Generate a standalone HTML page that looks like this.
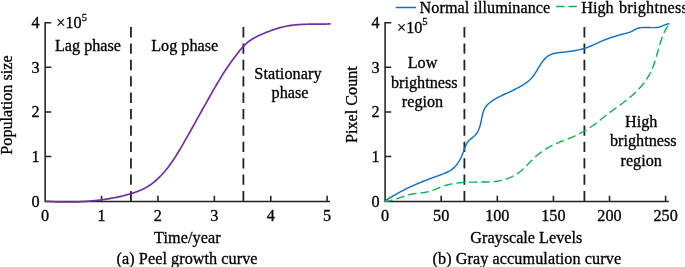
<!DOCTYPE html><html><head><meta charset="utf-8"><title>Figure</title><style>html,body{margin:0;padding:0;background:#fff}svg{display:block}</style></head><body><svg width="685" height="267" viewBox="0 0 685 267">
<rect width="100%" height="100%" fill="#fff"/>
<g font-family="'Liberation Serif', serif" font-size="16.2" fill="#000" stroke="#000" stroke-width="0.3">
<g fill="none" stroke="#222" stroke-width="1.55">
<path d="M45.15,21.95 V201.45 H330.0"/>
<path d="M101.55,201.45 v-5.7 M157.95,201.45 v-5.7 M214.35,201.45 v-5.7 M270.75,201.45 v-5.7 M327.15,201.45 v-5.7 M45.15,156.50 h6.2 M45.15,111.90 h6.2 M45.15,67.30 h6.2 M45.15,22.70 h6.2 "/>
<path d="M385.1,21.95 V201.45 H668.8"/>
<path d="M441.20,201.45 v-5.7 M497.30,201.45 v-5.7 M553.40,201.45 v-5.7 M609.50,201.45 v-5.7 M665.60,201.45 v-5.7 M385.1,156.50 h6.2 M385.1,111.90 h6.2 M385.1,67.30 h6.2 M385.1,22.70 h6.2 "/>
</g>
<g fill="none" stroke="#222" stroke-width="1.8" stroke-dasharray="10.3,6.08">
<path d="M130.95,27.1 V201.1"/>
<path d="M243.4,27.1 V201.1"/>
<path d="M464.4,27.1 V201.1"/>
<path d="M584.4,27.1 V201.1"/>
</g>
<path d="M45.30,201.23 L46.45,201.31 L47.59,201.38 L48.74,201.45 L49.88,201.51 L51.03,201.58 L52.18,201.63 L53.32,201.69 L54.47,201.74 L55.62,201.78 L56.76,201.82 L57.91,201.86 L59.05,201.89 L60.20,201.92 L61.35,201.95 L62.49,201.97 L63.64,201.98 L64.79,202.00 L65.93,202.00 L67.08,202.01 L68.22,202.00 L69.37,202.00 L70.52,201.99 L71.66,201.97 L72.81,201.95 L73.95,201.93 L75.10,201.90 L76.25,201.86 L77.39,201.82 L78.54,201.78 L79.69,201.73 L80.83,201.68 L81.98,201.62 L83.12,201.55 L84.27,201.48 L85.42,201.41 L86.56,201.33 L87.71,201.25 L88.86,201.16 L90.00,201.06 L91.15,200.96 L92.29,200.86 L93.44,200.75 L94.59,200.63 L95.73,200.51 L96.88,200.38 L98.02,200.25 L99.17,200.11 L100.32,199.97 L101.46,199.82 L102.61,199.66 L103.76,199.50 L104.90,199.34 L106.05,199.17 L107.19,198.99 L108.34,198.80 L109.49,198.61 L110.63,198.41 L111.78,198.21 L112.92,198.00 L114.07,197.78 L115.22,197.55 L116.36,197.32 L117.51,197.08 L118.66,196.83 L119.80,196.57 L120.95,196.31 L122.09,196.04 L123.24,195.75 L124.39,195.46 L125.53,195.17 L126.68,194.86 L127.83,194.54 L128.97,194.22 L130.12,193.88 L131.26,193.54 L132.41,193.19 L133.56,192.82 L134.70,192.44 L135.85,192.04 L136.99,191.63 L138.14,191.20 L139.29,190.74 L140.43,190.26 L141.58,189.75 L142.73,189.22 L143.87,188.66 L145.02,188.06 L146.16,187.43 L147.31,186.77 L148.46,186.07 L149.60,185.33 L150.75,184.54 L151.90,183.72 L153.04,182.85 L154.19,181.94 L155.33,180.98 L156.48,179.98 L157.63,178.94 L158.77,177.85 L159.92,176.71 L161.06,175.53 L162.21,174.29 L163.36,173.02 L164.50,171.69 L165.65,170.32 L166.80,168.91 L167.94,167.44 L169.09,165.93 L170.23,164.37 L171.38,162.76 L172.53,161.11 L173.67,159.41 L174.82,157.66 L175.97,155.87 L177.11,154.04 L178.26,152.18 L179.40,150.28 L180.55,148.35 L181.70,146.40 L182.84,144.43 L183.99,142.44 L185.13,140.43 L186.28,138.41 L187.43,136.38 L188.57,134.34 L189.72,132.30 L190.87,130.26 L192.01,128.22 L193.16,126.17 L194.30,124.12 L195.45,122.06 L196.60,120.01 L197.74,117.95 L198.89,115.90 L200.03,113.84 L201.18,111.79 L202.33,109.74 L203.47,107.69 L204.62,105.64 L205.77,103.60 L206.91,101.56 L208.06,99.52 L209.20,97.48 L210.35,95.45 L211.50,93.43 L212.64,91.42 L213.79,89.42 L214.94,87.43 L216.08,85.46 L217.23,83.51 L218.37,81.58 L219.52,79.66 L220.67,77.77 L221.81,75.91 L222.96,74.07 L224.10,72.26 L225.25,70.49 L226.40,68.78 L227.54,67.10 L228.69,65.44 L229.84,63.80 L230.98,62.19 L232.13,60.60 L233.27,59.03 L234.42,57.48 L235.57,55.94 L236.71,54.43 L237.86,52.93 L239.01,51.47 L240.15,50.04 L241.30,48.64 L242.44,47.31 L243.59,46.06 L244.74,44.89 L245.88,43.81 L247.03,42.81 L248.17,41.88 L249.32,41.02 L250.47,40.21 L251.61,39.47 L252.76,38.77 L253.91,38.11 L255.05,37.50 L256.20,36.91 L257.34,36.35 L258.49,35.81 L259.64,35.29 L260.78,34.78 L261.93,34.27 L263.08,33.77 L264.22,33.28 L265.37,32.80 L266.51,32.33 L267.66,31.87 L268.81,31.42 L269.95,30.98 L271.10,30.55 L272.24,30.13 L273.39,29.73 L274.54,29.34 L275.68,28.96 L276.83,28.60 L277.98,28.25 L279.12,27.91 L280.27,27.59 L281.41,27.29 L282.56,27.00 L283.71,26.72 L284.85,26.47 L286.00,26.23 L287.14,26.01 L288.29,25.81 L289.44,25.62 L290.58,25.45 L291.73,25.30 L292.88,25.15 L294.02,25.02 L295.17,24.91 L296.31,24.81 L297.46,24.71 L298.61,24.63 L299.75,24.56 L300.90,24.49 L302.05,24.43 L303.19,24.38 L304.34,24.33 L305.48,24.29 L306.63,24.26 L307.78,24.23 L308.92,24.21 L310.07,24.19 L311.21,24.18 L312.36,24.17 L313.51,24.16 L314.65,24.15 L315.80,24.15 L316.95,24.14 L318.09,24.14 L319.24,24.13 L320.38,24.12 L321.53,24.11 L322.68,24.09 L323.82,24.08 L324.97,24.05 L326.12,24.03 L327.26,23.99 L328.41,23.96 L329.55,23.91 L330.70,23.86" fill="none" stroke="#7030a2" stroke-width="1.7" stroke-linejoin="round"/>
<path d="M384.80,200.99 L385.79,200.36 L386.79,199.73 L387.80,199.11 L388.81,198.49 L389.82,197.87 L390.84,197.26 L391.87,196.65 L392.89,196.05 L393.93,195.45 L394.96,194.86 L396.00,194.27 L397.05,193.69 L398.10,193.11 L399.15,192.54 L400.20,191.97 L401.26,191.41 L402.32,190.85 L403.39,190.30 L404.46,189.75 L405.53,189.21 L406.60,188.68 L407.67,188.15 L408.75,187.63 L409.83,187.12 L410.91,186.61 L411.99,186.11 L413.08,185.62 L414.17,185.13 L415.25,184.65 L416.34,184.18 L417.43,183.71 L418.52,183.25 L419.61,182.80 L420.71,182.36 L421.80,181.91 L422.90,181.48 L424.00,181.05 L425.10,180.62 L426.20,180.19 L427.30,179.77 L428.41,179.35 L429.52,178.94 L430.63,178.52 L431.74,178.10 L432.86,177.69 L433.98,177.28 L435.10,176.86 L436.23,176.44 L437.35,176.03 L438.48,175.61 L439.62,175.18 L440.76,174.76 L441.90,174.33 L443.04,173.90 L444.18,173.45 L445.32,172.99 L446.44,172.51 L447.54,172.01 L448.61,171.47 L449.66,170.90 L450.67,170.28 L451.64,169.62 L452.57,168.91 L453.46,168.15 L454.31,167.35 L455.13,166.51 L455.91,165.64 L456.65,164.73 L457.36,163.79 L458.03,162.81 L458.68,161.82 L459.29,160.79 L459.88,159.75 L460.44,158.68 L460.98,157.60 L461.49,156.50 L461.98,155.39 L462.44,154.28 L462.89,153.15 L463.32,152.02 L463.73,150.89 L464.13,149.77 L464.52,148.65 L464.93,147.54 L465.36,146.45 L465.82,145.38 L466.32,144.33 L466.87,143.32 L467.48,142.34 L468.17,141.41 L468.94,140.52 L469.80,139.69 L470.74,138.89 L471.71,138.11 L472.70,137.34 L473.66,136.56 L474.58,135.74 L475.41,134.89 L476.17,133.99 L476.86,133.05 L477.48,132.08 L478.04,131.07 L478.54,130.03 L479.00,128.96 L479.40,127.87 L479.77,126.75 L480.11,125.61 L480.41,124.46 L480.69,123.29 L480.95,122.11 L481.19,120.91 L481.43,119.72 L481.66,118.52 L481.90,117.32 L482.15,116.12 L482.42,114.94 L482.71,113.77 L483.04,112.62 L483.41,111.49 L483.82,110.39 L484.29,109.32 L484.83,108.28 L485.43,107.29 L486.11,106.34 L486.87,105.43 L487.68,104.57 L488.54,103.74 L489.45,102.95 L490.39,102.20 L491.35,101.48 L492.33,100.78 L493.32,100.12 L494.33,99.48 L495.36,98.86 L496.40,98.27 L497.45,97.69 L498.50,97.14 L499.57,96.59 L500.64,96.06 L501.72,95.54 L502.81,95.03 L503.89,94.53 L504.98,94.03 L506.06,93.54 L507.15,93.04 L508.23,92.55 L509.30,92.05 L510.38,91.55 L511.45,91.04 L512.52,90.53 L513.59,90.01 L514.66,89.49 L515.73,88.96 L516.79,88.41 L517.86,87.86 L518.91,87.30 L519.97,86.72 L521.01,86.13 L522.04,85.53 L523.06,84.90 L524.06,84.26 L525.05,83.60 L526.02,82.91 L526.96,82.20 L527.89,81.47 L528.79,80.71 L529.66,79.92 L530.51,79.10 L531.32,78.26 L532.10,77.38 L532.85,76.46 L533.57,75.52 L534.26,74.56 L534.93,73.57 L535.58,72.56 L536.22,71.54 L536.85,70.51 L537.47,69.47 L538.09,68.43 L538.71,67.39 L539.34,66.35 L539.98,65.32 L540.62,64.30 L541.29,63.29 L541.97,62.30 L542.68,61.34 L543.42,60.40 L544.19,59.49 L545.00,58.61 L545.84,57.78 L546.71,57.01 L547.63,56.29 L548.58,55.63 L549.58,55.06 L550.63,54.56 L551.71,54.14 L552.84,53.80 L553.99,53.51 L555.17,53.28 L556.36,53.08 L557.56,52.90 L558.76,52.74 L559.96,52.58 L561.17,52.43 L562.37,52.28 L563.57,52.14 L564.77,52.00 L565.96,51.85 L567.16,51.71 L568.35,51.56 L569.54,51.41 L570.73,51.26 L571.91,51.09 L573.09,50.92 L574.27,50.73 L575.44,50.53 L576.61,50.32 L577.78,50.10 L578.93,49.85 L580.09,49.59 L581.24,49.31 L582.38,49.01 L583.51,48.68 L584.64,48.33 L585.77,47.96 L586.88,47.56 L588.00,47.14 L589.10,46.71 L590.21,46.26 L591.31,45.79 L592.40,45.32 L593.50,44.84 L594.59,44.34 L595.68,43.85 L596.77,43.35 L597.87,42.85 L598.96,42.36 L600.05,41.87 L601.14,41.38 L602.24,40.90 L603.34,40.43 L604.44,39.98 L605.55,39.54 L606.65,39.11 L607.77,38.70 L608.88,38.29 L610.00,37.90 L611.12,37.52 L612.25,37.15 L613.38,36.79 L614.51,36.44 L615.65,36.09 L616.78,35.76 L617.93,35.43 L619.07,35.11 L620.22,34.80 L621.37,34.49 L622.52,34.19 L623.67,33.89 L624.83,33.60 L625.99,33.31 L627.14,33.00 L628.29,32.66 L629.42,32.29 L630.52,31.85 L631.61,31.36 L632.67,30.81 L633.72,30.24 L634.77,29.68 L635.83,29.15 L636.90,28.68 L637.99,28.30 L639.11,28.01 L640.24,27.79 L641.39,27.65 L642.56,27.55 L643.73,27.50 L644.91,27.48 L646.10,27.49 L647.29,27.52 L648.49,27.55 L649.68,27.59 L650.88,27.62 L652.08,27.64 L653.27,27.64 L654.46,27.60 L655.64,27.53 L656.82,27.42 L657.98,27.25 L659.14,27.02 L660.29,26.73 L661.42,26.35 L662.54,25.90 L663.65,25.41 L664.77,24.91 L665.89,24.46 L667.03,24.08 L668.19,23.84 L669.38,23.76" fill="none" stroke="#1270c4" stroke-width="1.45" stroke-linejoin="round"/>
<path d="M384.81,201.34 L386.03,201.27 L387.23,201.15 L388.42,200.99 L389.60,200.79 L390.77,200.54 L391.94,200.26 L393.09,199.96 L394.23,199.62 L395.37,199.27 L396.51,198.89 L397.64,198.50 L398.77,198.11 L399.90,197.70 L401.02,197.30 L402.15,196.89 L403.28,196.49 L404.41,196.10 L405.54,195.73 L406.68,195.37 L407.82,195.03 L408.97,194.72 L410.13,194.44 L411.30,194.20 L412.47,193.98 L413.66,193.79 L414.84,193.63 L416.04,193.48 L417.23,193.34 L418.43,193.21 L419.62,193.08 L420.82,192.94 L422.01,192.80 L423.20,192.64 L424.39,192.47 L425.57,192.27 L426.74,192.05 L427.90,191.79 L429.05,191.50 L430.19,191.16 L431.33,190.80 L432.45,190.41 L433.57,190.00 L434.69,189.56 L435.80,189.12 L436.91,188.67 L438.03,188.22 L439.14,187.76 L440.25,187.32 L441.37,186.88 L442.49,186.46 L443.62,186.07 L444.76,185.69 L445.90,185.34 L447.05,185.02 L448.21,184.72 L449.37,184.44 L450.54,184.18 L451.71,183.94 L452.89,183.72 L454.06,183.52 L455.25,183.33 L456.43,183.17 L457.62,183.01 L458.81,182.88 L460.00,182.75 L461.19,182.64 L462.38,182.55 L463.57,182.46 L464.77,182.38 L465.96,182.32 L467.15,182.26 L468.35,182.21 L469.55,182.17 L470.74,182.14 L471.94,182.12 L473.14,182.10 L474.34,182.08 L475.54,182.07 L476.74,182.06 L477.94,182.06 L479.14,182.06 L480.34,182.06 L481.55,182.06 L482.75,182.05 L483.95,182.05 L485.15,182.04 L486.36,182.02 L487.56,181.99 L488.76,181.96 L489.96,181.91 L491.15,181.84 L492.35,181.76 L493.55,181.66 L494.74,181.54 L495.93,181.40 L497.12,181.23 L498.30,181.04 L499.48,180.82 L500.66,180.58 L501.83,180.31 L502.99,180.02 L504.15,179.70 L505.29,179.36 L506.43,178.99 L507.56,178.59 L508.68,178.17 L509.78,177.72 L510.88,177.24 L511.96,176.73 L513.02,176.20 L514.07,175.64 L515.10,175.05 L516.12,174.44 L517.12,173.80 L518.09,173.12 L519.05,172.42 L520.00,171.70 L520.92,170.95 L521.83,170.17 L522.73,169.38 L523.61,168.57 L524.48,167.74 L525.35,166.91 L526.21,166.06 L527.06,165.20 L527.91,164.34 L528.75,163.47 L529.60,162.60 L530.44,161.73 L531.29,160.86 L532.14,160.00 L533.00,159.15 L533.86,158.30 L534.74,157.47 L535.62,156.65 L536.52,155.85 L537.43,155.07 L538.35,154.30 L539.28,153.55 L540.23,152.82 L541.19,152.11 L542.16,151.42 L543.15,150.74 L544.14,150.08 L545.15,149.43 L546.16,148.81 L547.19,148.19 L548.22,147.60 L549.27,147.01 L550.32,146.45 L551.38,145.89 L552.45,145.35 L553.52,144.83 L554.60,144.31 L555.69,143.81 L556.79,143.33 L557.89,142.85 L559.00,142.39 L560.11,141.94 L561.22,141.50 L562.34,141.06 L563.46,140.63 L564.58,140.19 L565.70,139.76 L566.82,139.33 L567.94,138.89 L569.06,138.45 L570.17,138.00 L571.27,137.54 L572.38,137.07 L573.47,136.59 L574.57,136.09 L575.65,135.59 L576.73,135.07 L577.81,134.55 L578.88,134.01 L579.94,133.46 L581.00,132.90 L582.05,132.33 L583.10,131.75 L584.14,131.16 L585.17,130.56 L586.20,129.94 L587.22,129.32 L588.23,128.69 L589.24,128.04 L590.24,127.38 L591.24,126.72 L592.22,126.04 L593.20,125.35 L594.18,124.65 L595.14,123.94 L596.10,123.22 L597.06,122.50 L598.00,121.77 L598.95,121.03 L599.89,120.29 L600.83,119.54 L601.77,118.79 L602.71,118.04 L603.65,117.29 L604.58,116.54 L605.52,115.79 L606.46,115.05 L607.41,114.31 L608.36,113.58 L609.31,112.85 L610.26,112.13 L611.22,111.41 L612.19,110.70 L613.15,110.00 L614.12,109.29 L615.09,108.59 L616.07,107.90 L617.04,107.20 L618.01,106.50 L618.98,105.81 L619.95,105.11 L620.92,104.41 L621.89,103.70 L622.85,102.99 L623.81,102.28 L624.77,101.56 L625.72,100.84 L626.66,100.10 L627.60,99.36 L628.54,98.61 L629.46,97.85 L630.38,97.08 L631.29,96.30 L632.20,95.50 L633.09,94.70 L633.97,93.88 L634.85,93.06 L635.71,92.22 L636.57,91.38 L637.41,90.52 L638.24,89.65 L639.06,88.77 L639.86,87.88 L640.65,86.98 L641.43,86.06 L642.20,85.14 L642.95,84.21 L643.68,83.26 L644.40,82.31 L645.10,81.34 L645.79,80.37 L646.46,79.38 L647.11,78.38 L647.75,77.37 L648.37,76.35 L648.96,75.32 L649.54,74.28 L650.10,73.23 L650.64,72.17 L651.16,71.10 L651.66,70.02 L652.13,68.92 L652.59,67.82 L653.03,66.71 L653.46,65.59 L653.86,64.46 L654.26,63.33 L654.64,62.19 L655.01,61.05 L655.37,59.90 L655.72,58.74 L656.07,57.59 L656.40,56.43 L656.74,55.27 L657.07,54.11 L657.39,52.95 L657.72,51.78 L658.04,50.62 L658.37,49.46 L658.70,48.31 L659.03,47.15 L659.37,46.00 L659.72,44.86 L660.07,43.72 L660.43,42.58 L660.80,41.44 L661.18,40.32 L661.57,39.19 L661.98,38.07 L662.39,36.96 L662.82,35.86 L663.27,34.75 L663.74,33.66 L664.22,32.57 L664.72,31.49 L665.23,30.41 L665.77,29.34 L666.33,28.28 L666.92,27.23 L667.52,26.18 L668.15,25.14 L668.81,24.11" fill="none" stroke="#14b050" stroke-width="1.4" stroke-dasharray="7.3,5.15" stroke-linecap="round" stroke-linejoin="round"/>
<text x="45.1" y="221.2" text-anchor="middle">0</text>
<text x="385.1" y="221.2" text-anchor="middle">0</text>
<text x="101.5" y="221.2" text-anchor="middle">1</text>
<text x="441.2" y="221.2" text-anchor="middle">50</text>
<text x="157.9" y="221.2" text-anchor="middle">2</text>
<text x="497.3" y="221.2" text-anchor="middle">100</text>
<text x="214.3" y="221.2" text-anchor="middle">3</text>
<text x="553.4" y="221.2" text-anchor="middle">150</text>
<text x="270.8" y="221.2" text-anchor="middle">4</text>
<text x="609.5" y="221.2" text-anchor="middle">200</text>
<text x="327.1" y="221.2" text-anchor="middle">5</text>
<text x="665.6" y="221.2" text-anchor="middle">250</text>
<text x="39.5" y="206.5" text-anchor="end">0</text>
<text x="379.5" y="206.5" text-anchor="end">0</text>
<text x="39.5" y="161.9" text-anchor="end">1</text>
<text x="379.5" y="161.9" text-anchor="end">1</text>
<text x="39.5" y="117.3" text-anchor="end">2</text>
<text x="379.5" y="117.3" text-anchor="end">2</text>
<text x="39.5" y="72.7" text-anchor="end">3</text>
<text x="379.5" y="72.7" text-anchor="end">3</text>
<text x="39.5" y="28.1" text-anchor="end">4</text>
<text x="379.5" y="28.1" text-anchor="end">4</text>
<text x="56.3" y="28">×10<tspan font-size="10.5" dy="-7.5">5</tspan></text>
<text x="397.0" y="32.6">×10<tspan font-size="10.5" dy="-7.8">5</tspan></text>
<text x="154.1" y="242.6" textLength="66.6">Time/year</text>
<text x="116.6" y="263.6" textLength="140.9">(a) Peel growth curve</text>
<text x="526.3" y="242.6" text-anchor="middle">Grayscale Levels</text>
<text x="432.5" y="263.6" textLength="188.6">(b) Gray accumulation curve</text>
<text transform="translate(11.7,105) rotate(-90)" text-anchor="middle">Population size</text>
<text transform="translate(357.2,104.6) rotate(-90)" text-anchor="middle">Pixel Count</text>
<text x="88" y="51" text-anchor="middle">Lag phase</text>
<text x="184.7" y="51" text-anchor="middle">Log phase</text>
<text x="254.3" y="78.9" textLength="67.3">Stationary</text>
<text x="290" y="98.4" text-anchor="middle">phase</text>
<text x="422.5" y="67.5" text-anchor="middle">Low</text>
<text x="424.3" y="87.5" text-anchor="middle">brightness</text>
<text x="422.5" y="106.5" text-anchor="middle">region</text>
<text x="641.2" y="126.5" text-anchor="middle">High</text>
<text x="643.3" y="146.2" text-anchor="middle">brightness</text>
<text x="641.2" y="165.6" text-anchor="middle">region</text>
<path d="M395.7,7.5 H416" stroke="#1270c4" stroke-width="1.5" fill="none"/>
<path d="M556.7,6.5 H576.3" stroke="#14b050" stroke-width="1.5" fill="none" stroke-dasharray="7.3,5.2" stroke-linecap="round"/>
<text x="419.6" y="12.6" textLength="130.6">Normal illuminance</text>
<text x="581.3" y="12.6">High <tspan x="618.9" textLength="69">brightness</tspan></text>
</g></svg></body></html>
